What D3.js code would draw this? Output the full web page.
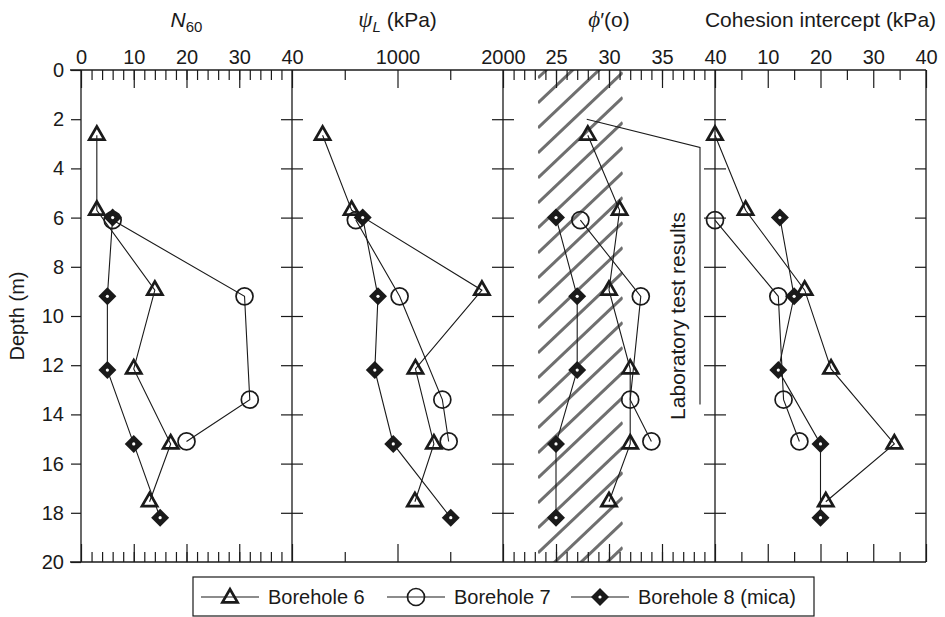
<!DOCTYPE html>
<html>
<head>
<meta charset="utf-8">
<script src="https://cdn.jsdelivr.net/npm/d3@7"></script>
<style>
  body { margin: 0; background: #fff; }
  svg text { font-family: "Liberation Sans", Arial, Helvetica, sans-serif; fill: #1a1a1a; }
</style>
</head>
<body>
<svg id="chart" width="945" height="617"></svg>
<script>
// Sample depths (m) for each borehole
const depthBH6 = [2.65, 5.7, 8.95, 12.15, 15.2, 17.55];
const depthBH7 = [6.1, 9.2, 13.4, 15.1];
const depthBH8 = [6.0, 9.2, 12.2, 15.2, 18.2];

// SPT blow count N60
const n60BH6 = [3, 3, 14, 10, 17, 13];
const n60BH7 = [6, 31, 32, 20];
const n60BH8 = [6, 5, 5, 10, 15];

// psi_L (kPa)
const psiBH6 = [290, 565, 1800, 1170, 1345, 1165];
const psiBH7 = [605, 1020, 1425, 1485];
const psiBH8 = [670, 815, 785, 960, 1505];

// friction angle phi' (degrees)
const phiBH6 = [28, 31, 30, 32, 32, 30];
const phiBH7 = [27.3, 33, 32, 34];
const phiBH8 = [25, 27, 27, 25, 25];

// cohesion intercept (kPa)
const cohBH6 = [0, 5.8, 17, 22, 34, 21];
const cohBH7 = [0, 12, 13, 16];
const cohBH8 = [12.3, 15, 12, 20, 20];

// range of phi' from laboratory tests
const labPhiRange = [23.3, 31.3];

// axis tick labels
const depthTicks = [0, 2, 4, 6, 8, 10, 12, 14, 16, 18, 20];
const n60Labels = [0, 10, 20, 30, 40];
const psiLabels = [1000, 2000];
const phiLabels = [25, 30, 35, 40];
const cohLabels = [10, 20, 30, 40];

const seriesNames = ["Borehole 6", "Borehole 7", "Borehole 8 (mica)"];

const svg = d3.select("#chart");
const yTop = 70, yBottom = 562;
const bounds = [81, 292, 503, 715, 926];

const y = d3.scaleLinear().domain([0, 20]).range([yTop, yBottom]);

const panels = [
  { domain: [0, 40], minor: d3.range(2, 40, 2), labels: n60Labels,
    series: [n60BH6, n60BH7, n60BH8] },
  { domain: [0, 2000], minor: [500, 1500], labels: psiLabels,
    series: [psiBH6, psiBH7, psiBH8] },
  { domain: [20, 40], minor: d3.range(21, 40, 1), labels: phiLabels,
    series: [phiBH6, phiBH7, phiBH8] },
  { domain: [0, 40], minor: [5, 15, 25, 35], labels: cohLabels,
    series: [cohBH6, cohBH7, cohBH8] }
];
const depths = [depthBH6, depthBH7, depthBH8];
panels.forEach((p, i) => {
  p.x = d3.scaleLinear().domain(p.domain).range([bounds[i], bounds[i + 1]]);
});

const ink = "#1a1a1a";
const hatchGrey = "#6f6f6f";

// ---- hatched band of laboratory phi' results ----
const xp = panels[2].x;
const bx0 = xp(labPhiRange[0]), bx1 = xp(labPhiRange[1]);
svg.append("clipPath").attr("id", "bandClip")
  .append("rect").attr("x", bx0).attr("y", yTop)
  .attr("width", bx1 - bx0).attr("height", yBottom - yTop);
const slope = 0.95, gap = 25;
const hatchK = d3.range(-2, Math.ceil((yBottom - yTop + (bx1 - bx0) * slope) / gap) + 2);
svg.append("g").attr("clip-path", "url(#bandClip)")
  .selectAll("line").data(hatchK).join("line")
  .attr("x1", bx0).attr("y1", k => yTop + 8 + k * gap)
  .attr("x2", bx1).attr("y2", k => yTop + 8 + k * gap - (bx1 - bx0) * slope)
  .attr("stroke", hatchGrey).attr("stroke-width", 3);

// ---- frame lines ----
svg.append("line").attr("x1", 70).attr("x2", bounds[4]).attr("y1", yTop).attr("y2", yTop)
  .attr("stroke", ink).attr("stroke-width", 1.3);
svg.append("line").attr("x1", 70).attr("x2", bounds[4]).attr("y1", yBottom).attr("y2", yBottom)
  .attr("stroke", ink).attr("stroke-width", 1.3);
svg.selectAll("line.vb").data(bounds).join("line").attr("class", "vb")
  .attr("x1", d => d).attr("x2", d => d).attr("y1", yTop).attr("y2", yBottom)
  .attr("stroke", ink).attr("stroke-width", 1.3);

function styleAxis(g) {
  g.select(".domain").remove();
  g.selectAll(".tick line").attr("stroke", ink).attr("stroke-width", 1.2);
  g.selectAll(".tick text").attr("font-size", 20).attr("fill", ink)
    .attr("font-family", "Liberation Sans, Arial, sans-serif");
}

// ---- horizontal axes for each panel ----
panels.forEach(p => {
  svg.append("g").attr("transform", `translate(0,${yTop})`)
    .call(d3.axisTop(p.x).tickValues(p.minor).tickSize(-10).tickFormat(""))
    .call(styleAxis);
  svg.append("g").attr("transform", `translate(0,${yTop})`)
    .call(d3.axisTop(p.x).tickValues(p.labels).tickSize(-18).tickPadding(6).tickFormat(d3.format("d")))
    .call(styleAxis);
  svg.append("g").attr("transform", `translate(0,${yBottom})`)
    .call(d3.axisBottom(p.x).tickValues(p.minor).tickSize(-10).tickFormat(""))
    .call(styleAxis);
  svg.append("g").attr("transform", `translate(0,${yBottom})`)
    .call(d3.axisBottom(p.x).tickValues(p.labels).tickSize(-18).tickFormat(""))
    .call(styleAxis);
});

// ---- depth axes ----
svg.append("g").attr("transform", `translate(${bounds[0]},0)`)
  .call(d3.axisLeft(y).tickValues(depthTicks).tickSize(10).tickPadding(7).tickFormat(d3.format("d")))
  .call(styleAxis);
[bounds[1], bounds[2], bounds[3]].forEach(bx => {
  svg.append("g").attr("transform", `translate(${bx - 11},0)`)
    .call(d3.axisRight(y).tickValues(depthTicks.slice(1, -1)).tickSize(22).tickFormat(""))
    .call(styleAxis);
});
svg.append("g").attr("transform", `translate(${bounds[4]},0)`)
  .call(d3.axisLeft(y).tickValues(depthTicks.slice(1, -1)).tickSize(11).tickFormat(""))
  .call(styleAxis);

svg.append("text").attr("transform", `translate(24,${(yTop + yBottom) / 2}) rotate(-90)`)
  .attr("text-anchor", "middle").attr("font-size", 20).text("Depth (m)");

// ---- panel titles ----
const titleY = 27;
const serif = "Liberation Serif, Times New Roman, serif";
function centre(i) { return (bounds[i] + bounds[i + 1]) / 2; }

let t = svg.append("text").attr("x", centre(0)).attr("y", titleY).attr("text-anchor", "middle").attr("font-size", 21);
t.append("tspan").attr("font-style", "italic").text("N");
t.append("tspan").attr("font-size", 15).attr("dy", 5).text("60");

t = svg.append("text").attr("x", centre(1)).attr("y", titleY).attr("text-anchor", "middle").attr("font-size", 21);
t.append("tspan").attr("font-style", "italic").attr("font-family", serif).attr("font-size", 23).text("ψ");
t.append("tspan").attr("font-style", "italic").attr("font-size", 15).attr("dy", 5).text("L");
t.append("tspan").attr("dy", -5).text(" (kPa)");

t = svg.append("text").attr("x", centre(2)).attr("y", titleY).attr("text-anchor", "middle").attr("font-size", 21);
t.append("tspan").attr("font-style", "italic").attr("font-family", serif).attr("font-size", 23).text("ϕ");
t.append("tspan").text("′(o)");

svg.append("text").attr("x", centre(3)).attr("y", titleY).attr("text-anchor", "middle")
  .attr("font-size", 21).text("Cohesion intercept (kPa)");

// ---- markers ----
const triPath = "M0,-8.7L7.6,4.4L-7.6,4.4Z";
const diaPath = "M0,-9L9,0L0,9L-9,0Z";
function drawMarker(g, k) {
  if (k === 0) {
    g.append("path").attr("d", triPath).attr("fill", "none")
      .attr("stroke", ink).attr("stroke-width", 2.7).attr("stroke-linejoin", "miter");
  } else if (k === 1) {
    g.append("circle").attr("r", 8.5).attr("fill", "none")
      .attr("stroke", ink).attr("stroke-width", 1.7);
  } else {
    g.append("path").attr("d", diaPath).attr("fill", ink);
    g.append("circle").attr("r", 1.6).attr("fill", "#fff");
  }
}

const line = d3.line();
panels.forEach(p => {
  p.series.forEach((vals, k) => {
    const pts = vals.map((v, j) => [p.x(v), y(depths[k][j])]);
    svg.append("path").attr("d", line(pts)).attr("fill", "none")
      .attr("stroke", ink).attr("stroke-width", 1.1);
  });
  p.series.forEach((vals, k) => {
    svg.append("g").selectAll("g").data(vals).join("g")
      .attr("transform", (v, j) => `translate(${p.x(v)},${y(depths[k][j])})`)
      .each(function () { drawMarker(d3.select(this), k); });
  });
});

// ---- laboratory annotation ----
svg.append("path")
  .attr("d", `M${xp(27.9)},${y(2.0)}L${bounds[3] - 15},${y(3.15)}L${bounds[3] - 15},${y(13.6)}`)
  .attr("fill", "none").attr("stroke", ink).attr("stroke-width", 1.1);
svg.append("text")
  .attr("transform", `translate(${bounds[3] - 30},${y(10.0)}) rotate(-90)`)
  .attr("text-anchor", "middle").attr("font-size", 21).text("Laboratory test results");

// ---- legend ----
const lg = svg.append("g").attr("transform", "translate(193,577)");
lg.append("rect").attr("width", 621).attr("height", 39).attr("fill", "#fff")
  .attr("stroke", ink).attr("stroke-width", 1.2);
const legendX = [8, 194, 378];
seriesNames.forEach((name, k) => {
  const g = lg.append("g").attr("transform", `translate(${legendX[k]},20)`);
  g.append("line").attr("x1", 0).attr("x2", 58).attr("stroke", ink).attr("stroke-width", 1.1);
  drawMarker(g.append("g").attr("transform", `translate(29,${k === 0 ? 1 : 0})`), k);
  g.append("text").attr("x", 67).attr("y", 7).attr("font-size", 20).text(name);
});
</script>
</body>
</html>
